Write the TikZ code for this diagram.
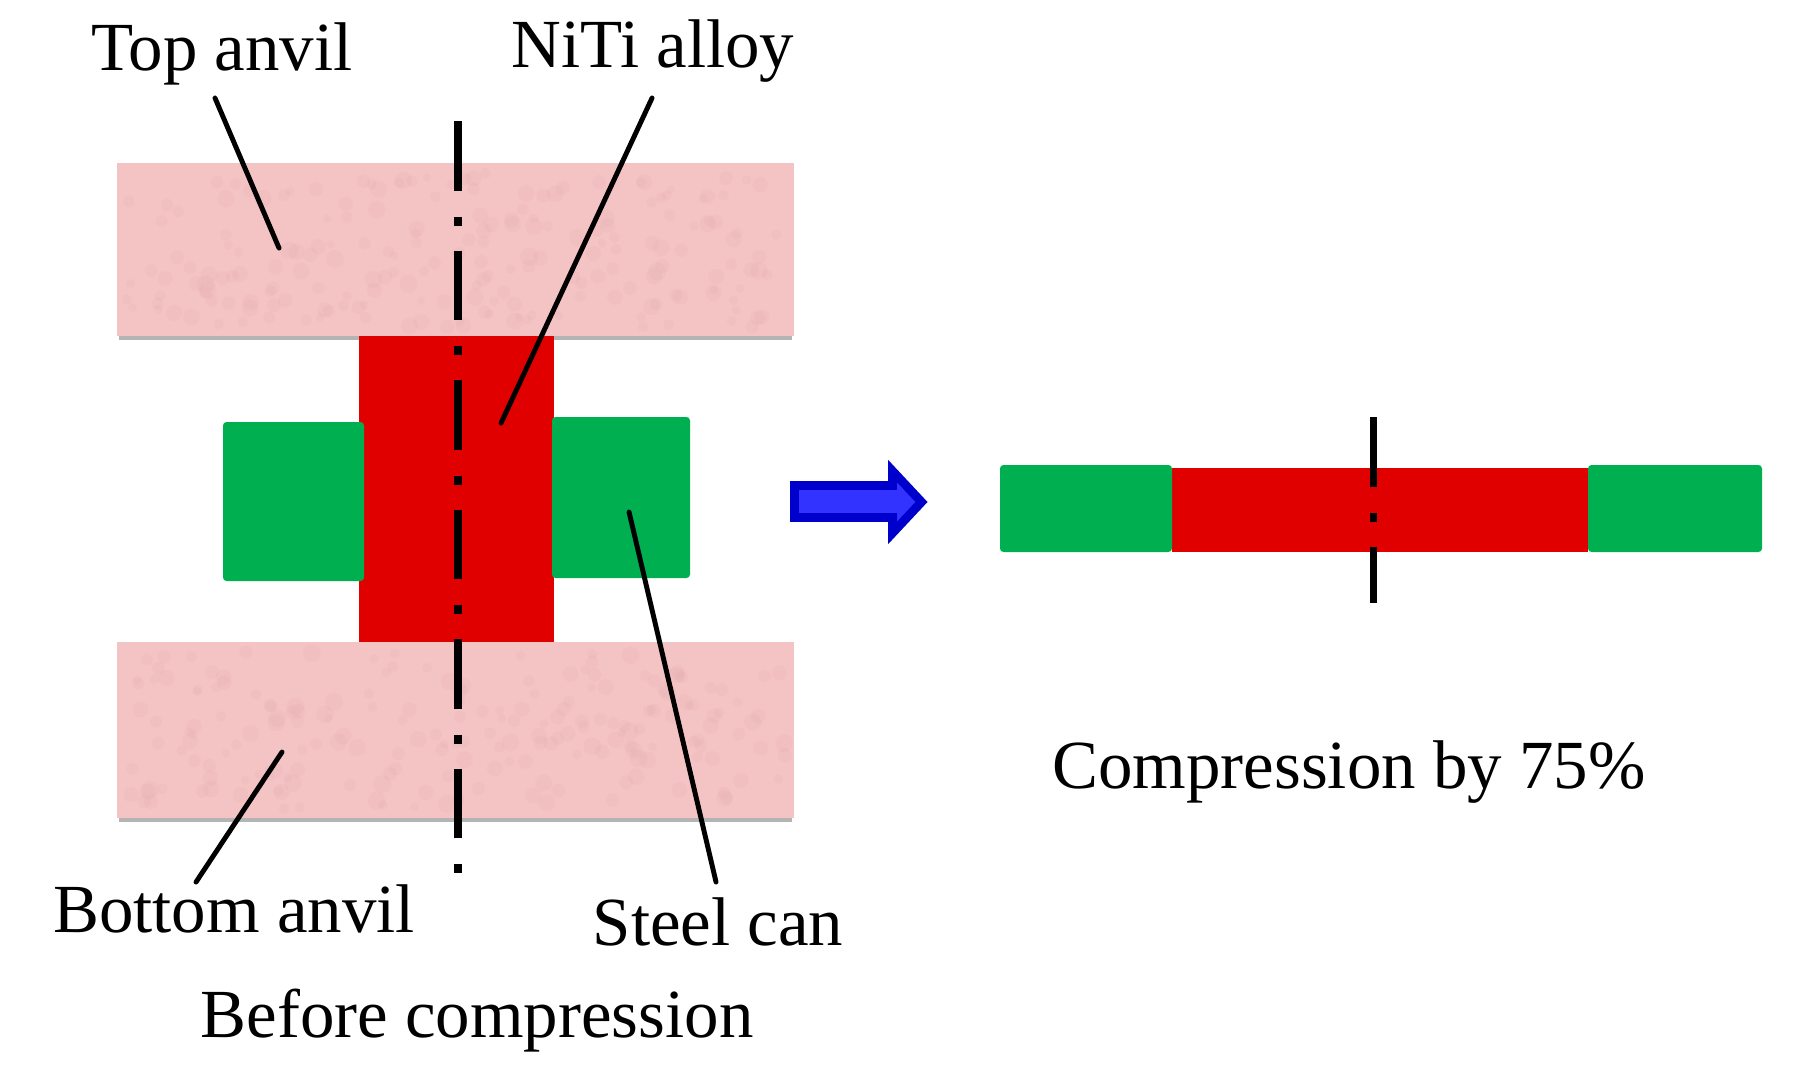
\documentclass[tikz,border=0pt]{standalone}
\usepackage{fontspec}
\setmainfont{Liberation Serif}
\definecolor{anvilpink}{HTML}{F4C3C4}
\definecolor{anvilblot}{HTML}{DFA6A8}
\definecolor{anvilshade}{HTML}{B4B4B4}
\definecolor{alloyred}{HTML}{E00000}
\definecolor{cangreen}{HTML}{00B050}
\definecolor{arrowblue}{HTML}{3333FF}
\definecolor{arrowedge}{HTML}{0000CC}
\begin{document}
\begin{tikzpicture}[scale=0.1]
			\tikzstyle{every node}+=[inner sep=0pt, anchor=base, font=\fontsize{19.6}{23}\selectfont]
			\tikzstyle{anvil}=[fill=anvilpink]
			\tikzstyle{alloy}=[fill=alloyred]
			\tikzstyle{can}=[fill=cangreen, rounded corners=1pt]
			\tikzstyle{axis}=[black, line width=2.2pt, dash pattern=on 19.85pt off 7.4pt on 2.55pt off 7.05pt]
			\tikzstyle{leader}=[black, line width=1.4pt, line cap=round]
			\useasboundingbox (0,0) rectangle (180.4,-108);
			% anvils
			\fill [anvilshade] (11.9,-16.8) rectangle (79.2,-34.0);
			\fill [anvilshade] (11.9,-64.7) rectangle (79.2,-82.2);
			\fill [anvil] (11.7,-16.3) rectangle (79.4,-33.6);
			\fill [anvil] (11.7,-64.2) rectangle (79.4,-81.8);
			\pgfmathsetseed{7}
			\foreach \i in {1,...,200} {
				\fill [anvilblot, opacity=0.13] (12.6+65.9*rnd,-17.2-15.5*rnd) circle (0.4+0.5*rnd);
				\fill [anvilblot, opacity=0.13] (12.6+65.9*rnd,-65.1-15.8*rnd) circle (0.4+0.5*rnd);
			}
			% before compression
			\fill [alloy] (35.9,-33.6) rectangle (55.4,-64.2);
			\fill [can] (22.3,-42.2) rectangle (36.4,-58.1);
			\fill [can] (55.2,-41.7) rectangle (69,-57.8);
			\draw [axis] (45.8,-12.1) -- (45.8,-87.4);
			% blue arrow
			\draw [arrowedge, fill=arrowblue, line width=2.5pt, line join=miter] (79.45,-48.55) -- (89.25,-48.55) -- (89.25,-47.1) -- (92.15,-50.2) -- (89.25,-53.3) -- (89.25,-51.75) -- (79.45,-51.75) -- cycle;
			% after compression
			\fill [alloy] (117.2,-46.8) rectangle (158.8,-55.2);
			\fill [can] (100,-46.5) rectangle (117.2,-55.2);
			\fill [can] (158.8,-46.5) rectangle (176.2,-55.2);
			\draw [axis, line width=2pt] (137.3,-41.7) -- (137.3,-60.3);
			% labels
			\node (toplabel) at (22.2,-7.1) {Top anvil};
			\node (nitilabel) at (65.3,-6.7) {NiTi alloy};
			\node (bottomlabel) at (23.4,-93.2) {Bottom anvil};
			\node (steellabel) at (71.8,-94.5) {Steel can};
			\node (beforelabel) at (47.7,-103.7) {Before compression};
			\node (afterlabel) at (134.9,-78.8) {Compression by 75\%};
			% leaders
			\coordinate (toptip) at (27.9,-24.8);
			\coordinate (nititip) at (50.1,-42.3);
			\coordinate (steeltip) at (62.9,-51.2);
			\coordinate (bottomtip) at (28.2,-75.2);
			\draw [leader] ([shift={(-0.7,-2.7)}]toplabel.base) -- (toptip);
			\draw [leader] ([shift={(-0.1,-3.1)}]nitilabel.base) -- (nititip);
			\draw [leader] ([shift={(-0.2,6.3)}]steellabel.base) -- (steeltip);
			\draw [leader] ([shift={(-3.8,5)}]bottomlabel.base) -- (bottomtip);
		\end{tikzpicture}
\end{document}
